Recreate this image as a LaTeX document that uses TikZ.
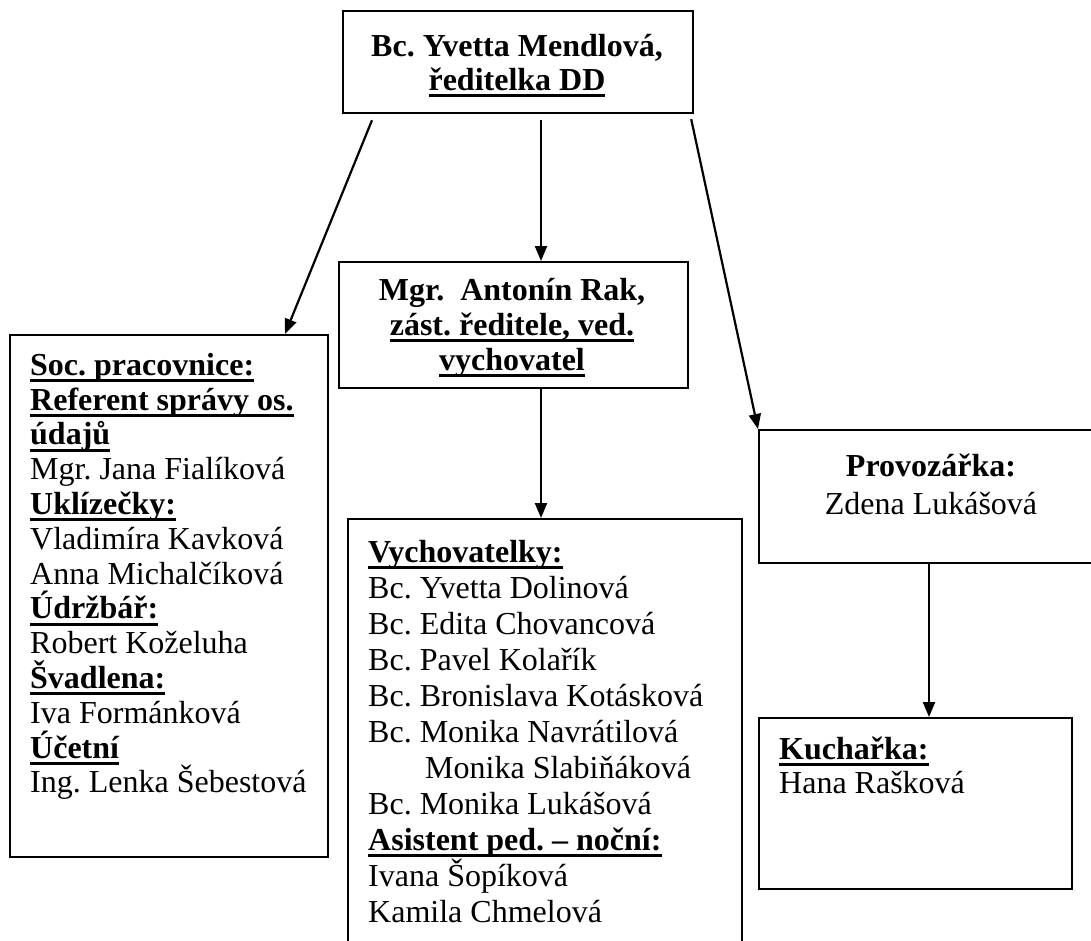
\documentclass[tikz,border=0pt]{standalone}
\usepackage{fontspec}
\setmainfont{Liberation Serif}
\usetikzlibrary{arrows.meta,calc}
\frenchspacing
\newcommand\ulin[1]{\textbf{\setbox0\hbox{#1}\rlap{\vrule height -4pt depth 7pt width \wd0}\box0}}
\newcommand\fsz[1]{\fontsize{32pt}{#1}\selectfont\frenchspacing}
\newcommand\fst{\rule{0pt}{24pt}}
\begin{document}
\begin{tikzpicture}[x=1pt,y=-1pt,
  box/.style={draw, line width=2.2pt, anchor=north west, inner sep=0pt},
  txt/.style={inner sep=0pt, anchor=north west, align=left},
  ctxt/.style={inner sep=0pt, anchor=north, align=center},
  arr/.style={line width=2.2pt, -{Triangle[length=15pt,width=12pt]}}]
\useasboundingbox (0,0) rectangle (1091,940);
\clip (0,0) rectangle (1091,940);
% boxes
\node[box, minimum width=350pt, minimum height=102pt] (top) at (342,10) {};
\node[box, minimum width=349pt, minimum height=126pt] (mid) at (338,261) {};
\node[box, minimum width=318pt, minimum height=522pt] (lbox) at (9,334) {};
\node[box, minimum width=394pt, minimum height=440pt] (vych) at (347,518) {};
\node[box, minimum width=350pt, minimum height=133pt] (prov) at (758,429) {};
\node[box, minimum width=313pt, minimum height=171pt] (kuch) at (758,717) {};
% texts
\node[ctxt, font=\fsz{34pt}] (ttop) at (517,32)
  {\fst\textbf{Bc. Yvetta Mendlová,}\\ \ulin{ředitelka DD}};
\node[ctxt, font=\fsz{35pt}] (tmid) at (512,276)
  {\fst\textbf{Mgr.\ \ Antonín Rak,}\\ \ulin{zást. ředitele, ved.}\\ \ulin{vychovatel}};
\node[txt, font=\fsz{34.8pt}] (tl) at (30,351)
  {\fst\ulin{Soc. pracovnice:}\\
   \ulin{Referent správy os.}\\
   \ulin{údajů}\\
   Mgr. Jana Fialíková\\
   \ulin{Uklízečky:}\\
   Vladimíra Kavková\\
   Anna Michalčíková\\
   \ulin{Údržbář:}\\
   Robert Koželuha\\
   \ulin{Švadlena:}\\
   Iva Formánková\\
   \ulin{Účetní}\\
   Ing. Lenka Šebestová};
\node[txt, font=\fsz{36pt}] (tv) at (368,538)
  {\fst\ulin{Vychovatelky:}\\
   Bc. Yvetta Dolinová\\
   Bc. Edita Chovancová\\
   Bc. Pavel Kolařík\\
   Bc. Bronislava Kotásková\\
   Bc. Monika Navrátilová\\
   \hspace*{57pt}Monika Slabiňáková\\
   Bc. Monika Lukášová\\
   \ulin{Asistent ped. – noční:}\\
   Ivana Šopíková\\
   Kamila Chmelová};
\node[ctxt, font=\fsz{38pt}] (tp) at (931,452)
  {\fst\textbf{Provozářka:}\\ Zdena Lukášová};
\node[txt, font=\fsz{34pt}] (tk) at (779,735)
  {\fst\ulin{Kuchařka:}\\ Hana Rašková};
% connectors
\draw[arr] ($(top.south west)+(30,6)$) -- ($(lbox.north west)+(276,0)$);
\draw[arr] ($(top.south west)+(199,6)$) -- ($(mid.north west)+(203,0)$);
\draw[arr] ($(top.south east)+(-3,5)$) -- (prov.north west);
\draw[arr] ($(mid.south west)+(203,0)$) -- ($(vych.north west)+(194,0)$);
\draw[arr] ($(prov.south west)+(171,0)$) -- ($(kuch.north west)+(171,0)$);
\end{tikzpicture}
\end{document}
